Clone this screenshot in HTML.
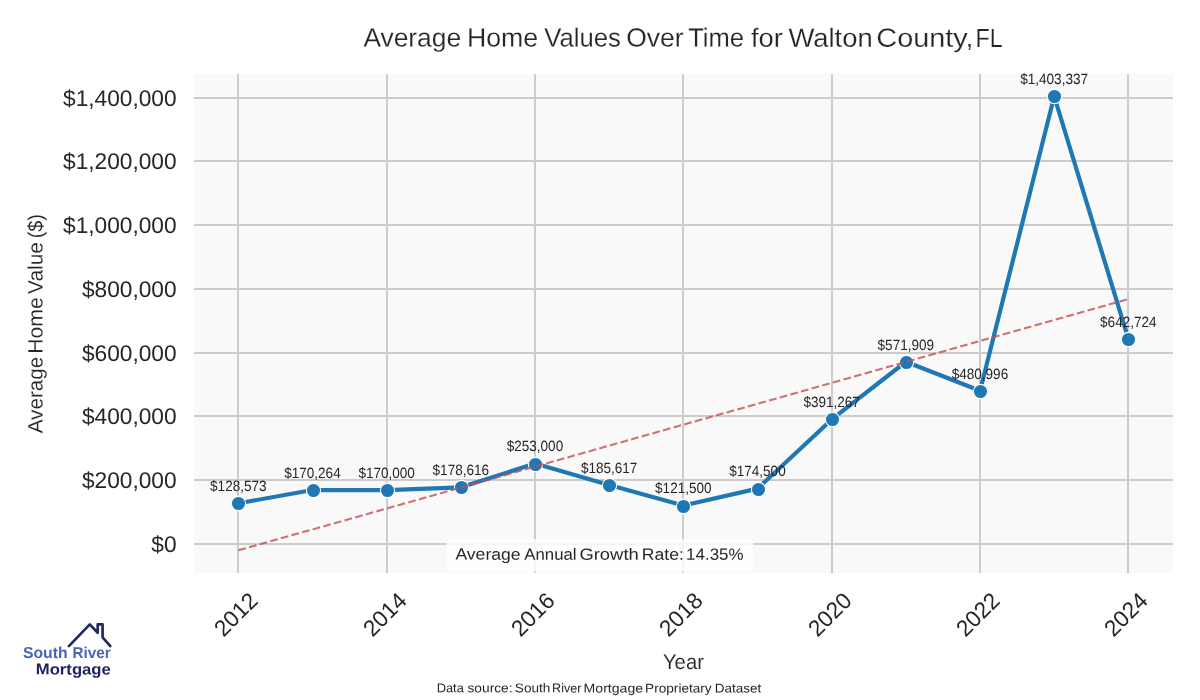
<!DOCTYPE html>
<html lang="en"><head><meta charset="utf-8"><title>Average Home Values Over Time for Walton County, FL</title>
<style>
html,body{margin:0;padding:0;background:#fff;}
body{width:1200px;height:700px;overflow:hidden;}
svg{display:block;}
text{font-family:"Liberation Sans",Arial,Helvetica,sans-serif;fill:#262626;}
.tick{font-size:22.7px;}
.dl{font-size:14.9px;}
</style></head><body>
<svg width="1200" height="700" viewBox="0 0 1200 700">
<rect x="0" y="0" width="1200" height="700" fill="#ffffff"/>
<rect x="194.0" y="74.0" width="979.0" height="499.0" fill="#f9f9f9"/>
<path d="M238,74.0V573.0M387,74.0V573.0M535,74.0V573.0M683,74.0V573.0M832,74.0V573.0M980,74.0V573.0M1128,74.0V573.0M194.0,544H1173.0M194.0,480H1173.0M194.0,416H1173.0M194.0,353H1173.0M194.0,289H1173.0M194.0,225H1173.0M194.0,161H1173.0M194.0,98H1173.0" stroke="#cccccc" stroke-width="2" fill="none"/>
<text class="tick" x="176.6" y="552" transform="rotate(0.03 176.6 552)" text-anchor="end">$0</text>
<text class="tick" x="176.6" y="488" transform="rotate(0.03 176.6 488)" text-anchor="end">$200,000</text>
<text class="tick" x="176.6" y="424" transform="rotate(0.03 176.6 424)" text-anchor="end">$400,000</text>
<text class="tick" x="176.6" y="361" transform="rotate(0.03 176.6 361)" text-anchor="end">$600,000</text>
<text class="tick" x="176.6" y="297" transform="rotate(0.03 176.6 297)" text-anchor="end">$800,000</text>
<text class="tick" x="176.6" y="233" transform="rotate(0.03 176.6 233)" text-anchor="end">$1,000,000</text>
<text class="tick" x="176.6" y="169" transform="rotate(0.03 176.6 169)" text-anchor="end">$1,200,000</text>
<text class="tick" x="176.6" y="106" transform="rotate(0.03 176.6 106)" text-anchor="end">$1,400,000</text>
<text class="tick" transform="translate(235.60,614.2) rotate(-45)" text-anchor="middle" y="8">2012</text>
<text class="tick" transform="translate(384.60,614.2) rotate(-45)" text-anchor="middle" y="8">2014</text>
<text class="tick" transform="translate(532.60,614.2) rotate(-45)" text-anchor="middle" y="8">2016</text>
<text class="tick" transform="translate(680.60,614.2) rotate(-45)" text-anchor="middle" y="8">2018</text>
<text class="tick" transform="translate(829.60,614.2) rotate(-45)" text-anchor="middle" y="8">2020</text>
<text class="tick" transform="translate(977.60,614.2) rotate(-45)" text-anchor="middle" y="8">2022</text>
<text class="tick" transform="translate(1125.60,614.2) rotate(-45)" text-anchor="middle" y="8">2024</text>
<polyline points="238.40,503.30 312.57,489.99 386.73,490.07 460.90,487.32 535.07,463.57 609.23,485.09 683.40,505.56 757.57,488.64 831.73,419.43 905.90,361.76 980.07,390.78 1054.23,96.31 1128.40,339.15" fill="none" stroke="#1f77b4" stroke-width="4.17" stroke-linejoin="round" stroke-linecap="round"/>
<circle cx="238.5" cy="503.5" r="7.1" fill="#1f77b4" stroke="#ffffff" stroke-width="1.1"/>
<circle cx="313.5" cy="490.5" r="7.1" fill="#1f77b4" stroke="#ffffff" stroke-width="1.1"/>
<circle cx="387.5" cy="490.5" r="7.1" fill="#1f77b4" stroke="#ffffff" stroke-width="1.1"/>
<circle cx="461.5" cy="487.5" r="7.1" fill="#1f77b4" stroke="#ffffff" stroke-width="1.1"/>
<circle cx="535.5" cy="464.5" r="7.1" fill="#1f77b4" stroke="#ffffff" stroke-width="1.1"/>
<circle cx="609.5" cy="485.5" r="7.1" fill="#1f77b4" stroke="#ffffff" stroke-width="1.1"/>
<circle cx="683.5" cy="506.5" r="7.1" fill="#1f77b4" stroke="#ffffff" stroke-width="1.1"/>
<circle cx="758.5" cy="489.5" r="7.1" fill="#1f77b4" stroke="#ffffff" stroke-width="1.1"/>
<circle cx="832.5" cy="419.5" r="7.1" fill="#1f77b4" stroke="#ffffff" stroke-width="1.1"/>
<circle cx="906.5" cy="362.5" r="7.1" fill="#1f77b4" stroke="#ffffff" stroke-width="1.1"/>
<circle cx="980.5" cy="391.5" r="7.1" fill="#1f77b4" stroke="#ffffff" stroke-width="1.1"/>
<circle cx="1054.5" cy="96.5" r="7.1" fill="#1f77b4" stroke="#ffffff" stroke-width="1.1"/>
<circle cx="1128.5" cy="339.5" r="7.1" fill="#1f77b4" stroke="#ffffff" stroke-width="1.1"/>
<line x1="238.40" y1="550.36" x2="1128.40" y2="299.02" stroke="#c44e52" stroke-opacity="0.8" stroke-width="2.08" stroke-dasharray="7.7 3.33"/>
<text class="dl" x="238.30" y="491.10" transform="rotate(0.03 238.40 491.10)" text-anchor="middle" textLength="56.4" lengthAdjust="spacingAndGlyphs">$128,573</text>
<text class="dl" x="312.47" y="477.79" transform="rotate(0.03 312.57 477.79)" text-anchor="middle" textLength="56.4" lengthAdjust="spacingAndGlyphs">$170,264</text>
<text class="dl" x="386.63" y="477.87" transform="rotate(0.03 386.73 477.87)" text-anchor="middle" textLength="56.4" lengthAdjust="spacingAndGlyphs">$170,000</text>
<text class="dl" x="460.80" y="475.12" transform="rotate(0.03 460.90 475.12)" text-anchor="middle" textLength="56.4" lengthAdjust="spacingAndGlyphs">$178,616</text>
<text class="dl" x="534.97" y="451.37" transform="rotate(0.03 535.07 451.37)" text-anchor="middle" textLength="56.4" lengthAdjust="spacingAndGlyphs">$253,000</text>
<text class="dl" x="609.13" y="472.89" transform="rotate(0.03 609.23 472.89)" text-anchor="middle" textLength="56.4" lengthAdjust="spacingAndGlyphs">$185,617</text>
<text class="dl" x="683.30" y="493.36" transform="rotate(0.03 683.40 493.36)" text-anchor="middle" textLength="56.4" lengthAdjust="spacingAndGlyphs">$121,500</text>
<text class="dl" x="757.47" y="476.44" transform="rotate(0.03 757.57 476.44)" text-anchor="middle" textLength="56.4" lengthAdjust="spacingAndGlyphs">$174,500</text>
<text class="dl" x="831.63" y="407.23" transform="rotate(0.03 831.73 407.23)" text-anchor="middle" textLength="56.4" lengthAdjust="spacingAndGlyphs">$391,267</text>
<text class="dl" x="905.80" y="349.56" transform="rotate(0.03 905.90 349.56)" text-anchor="middle" textLength="56.4" lengthAdjust="spacingAndGlyphs">$571,909</text>
<text class="dl" x="979.97" y="378.58" transform="rotate(0.03 980.07 378.58)" text-anchor="middle" textLength="56.4" lengthAdjust="spacingAndGlyphs">$480,996</text>
<text class="dl" x="1054.13" y="84.11" transform="rotate(0.03 1054.23 84.11)" text-anchor="middle" textLength="68.0" lengthAdjust="spacingAndGlyphs">$1,403,337</text>
<text class="dl" x="1128.30" y="326.95" transform="rotate(0.03 1128.40 326.95)" text-anchor="middle" textLength="56.4" lengthAdjust="spacingAndGlyphs">$642,724</text>
<rect x="446.3" y="539" width="307" height="32.6" rx="5.3" ry="5.3" fill="#ffffff" fill-opacity="0.8"/>
<text y="559.7" transform="rotate(0.03 600 559.7)" font-size="16.2"><tspan x="455.40" textLength="65.21" lengthAdjust="spacingAndGlyphs">Average</tspan> <tspan x="524.30" textLength="52.21" lengthAdjust="spacingAndGlyphs">Annual</tspan> <tspan x="579.44" textLength="59.30" lengthAdjust="spacingAndGlyphs">Growth</tspan> <tspan x="641.83" textLength="41.96" lengthAdjust="spacingAndGlyphs">Rate:</tspan> <tspan x="686.14" textLength="57.36" lengthAdjust="spacingAndGlyphs">14.35%</tspan></text>
<text y="46.6" transform="rotate(0.03 683 46.6)" font-size="26.2" stroke="#ffffff" stroke-width="0.18"><tspan x="363.40" textLength="97.67" lengthAdjust="spacingAndGlyphs">Average</tspan> <tspan x="466.92" textLength="71.17" lengthAdjust="spacingAndGlyphs">Home</tspan> <tspan x="544.30" textLength="76.50" lengthAdjust="spacingAndGlyphs">Values</tspan> <tspan x="626.16" textLength="57.37" lengthAdjust="spacingAndGlyphs">Over</tspan> <tspan x="688.20" textLength="55.83" lengthAdjust="spacingAndGlyphs">Time</tspan> <tspan x="751.00" textLength="31.93" lengthAdjust="spacingAndGlyphs">for</tspan> <tspan x="788.40" textLength="84.34" lengthAdjust="spacingAndGlyphs">Walton</tspan> <tspan x="876.35" textLength="97.10" lengthAdjust="spacingAndGlyphs">County,</tspan> <tspan x="975.58" textLength="27.20" lengthAdjust="spacingAndGlyphs">FL</tspan></text>
<text y="668.9" transform="rotate(0.03 683 668.9)" font-size="21" stroke="#ffffff" stroke-width="0.1"><tspan x="662.98" textLength="40.92" lengthAdjust="spacingAndGlyphs">Year</tspan></text>
<text transform="translate(42.4,433.3) rotate(-89.97)" font-size="20.8" stroke="#ffffff" stroke-width="0.1"><tspan x="0.00" textLength="76.64" lengthAdjust="spacingAndGlyphs">Average</tspan> <tspan x="79.54" textLength="56.51" lengthAdjust="spacingAndGlyphs">Home</tspan> <tspan x="139.40" textLength="51.85" lengthAdjust="spacingAndGlyphs">Value</tspan> <tspan x="194.97" textLength="24.26" lengthAdjust="spacingAndGlyphs">($)</tspan></text>
<text y="692.4" transform="rotate(0.03 600 692.4)" font-size="12.66"><tspan x="436.70" textLength="27.12" lengthAdjust="spacingAndGlyphs">Data</tspan> <tspan x="467.49" textLength="45.06" lengthAdjust="spacingAndGlyphs">source:</tspan> <tspan x="514.88" textLength="35.49" lengthAdjust="spacingAndGlyphs">South</tspan> <tspan x="552.12" textLength="29.34" lengthAdjust="spacingAndGlyphs">River</tspan> <tspan x="583.60" textLength="59.47" lengthAdjust="spacingAndGlyphs">Mortgage</tspan> <tspan x="645.14" textLength="66.56" lengthAdjust="spacingAndGlyphs">Proprietary</tspan> <tspan x="714.75" textLength="46.51" lengthAdjust="spacingAndGlyphs">Dataset</tspan></text>
<path d="M68.9,646.1 L89.8,624.4 L97.7,632.7 V624.4 H102.6 V637.3 L110.3,646.1" fill="none" stroke="#222962" stroke-width="2.7" stroke-linecap="round" stroke-linejoin="round"/>
<text y="658" transform="rotate(0.03 67 658)" font-size="15.8" font-weight="bold" style="fill:#4a64b4"><tspan x="22.95" textLength="44.61" lengthAdjust="spacingAndGlyphs">South</tspan> <tspan x="72.45" textLength="38.17" lengthAdjust="spacingAndGlyphs">River</tspan></text>
<text y="674.4" transform="rotate(0.03 74 674.4)" font-size="15.5" font-weight="bold" style="fill:#1f2560"><tspan x="35.76" textLength="75.06" lengthAdjust="spacingAndGlyphs">Mortgage</tspan></text>
</svg></body></html>
